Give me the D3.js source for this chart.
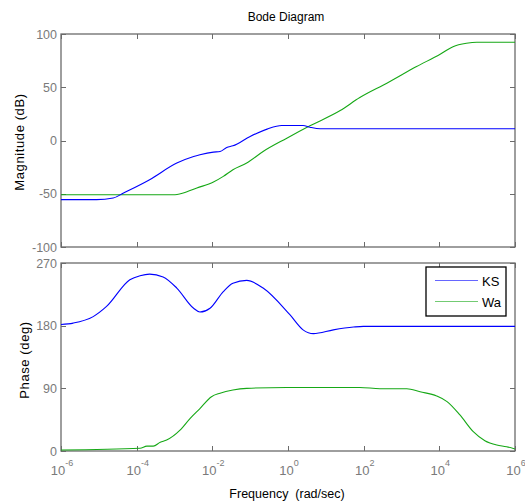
<!DOCTYPE html>
<html><head><meta charset="utf-8">
<script src="https://cdn.jsdelivr.net/npm/d3@7"></script>
<style>body{margin:0;background:#fff}svg{display:block}</style>
</head><body>
<script>
// ---- data ----
const seriesNames = ["KS", "Wa"];
const xTickExps = [-6, -4, -2, 0, 2, 4, 6];
const magTicks = [-100, -50, 0, 50, 100];
const phaseTicks = [0, 90, 180, 270];

const ksMagW = [1e-6, 8.7e-6, 2.4e-5, 4.5e-5, 2.2e-4, 1.15e-3, 3.2e-3, 4.7e-3, 1.07e-2, 1.6e-2, 2.4e-2, 3.5e-2, 0.1, 0.28, 0.68, 2.5, 3.8, 7.1, 1e6];
const ksMag  = [-55.5, -55.5, -54, -49.3, -36.8, -21.2, -15, -13.4, -10.9, -10.3, -6.6, -5, 3.8, 10.7, 14.1, 14.1, 12.5, 11, 11];

const waMagW = [1e-6, 9.3e-4, 1.7e-3, 3.9e-3, 1.07e-2, 1.95e-2, 3.5e-2, 8.1e-2, 0.22, 0.93, 3.8, 24, 79, 410, 2500, 1.05e4, 2.3e4, 5.2e4, 9.8e4, 1e6];
const waMag  = [-51, -51, -49.3, -44.6, -39, -33.7, -27.5, -21.2, -10.3, 2.2, 13.8, 28.1, 40.3, 53.8, 69.4, 81, 88.1, 91.3, 92.3, 92.3];

const ksPhW = [1e-6, 2.1e-6, 7.1e-6, 1.6e-5, 6.6e-5, 1.23e-4, 2.2e-4, 5e-4, 1.15e-3, 3.2e-3, 4.7e-3, 8.7e-3, 1.95e-2, 3.5e-2, 8.1e-2, 0.22, 1.12, 2.5, 4.7, 15.8, 54, 98, 1e6];
const ksPh  = [181.7, 183.7, 193, 207.6, 246, 251.8, 254, 250, 234, 205, 199.6, 205, 229, 241, 245, 234, 195.7, 174, 168.5, 174, 178, 179, 179];

const waPhW = [1e-6, 1.23e-4, 1.86e-4, 2.75e-4, 4.2e-4, 6.2e-4, 1.4e-3, 2.6e-3, 4.7e-3, 9.5e-3, 1.6e-2, 3.5e-2, 8.1e-2, 0.93, 79, 270, 1380, 3100, 8500, 1.6e4, 3.5e4, 7.9e4, 1.6e5, 3.3e5, 6e5, 1e6];
const waPh  = [1.4, 3.9, 7, 7, 12.5, 15.8, 30, 47, 61, 78, 83, 87.6, 90, 91.3, 91.3, 89.5, 89.5, 85, 79, 71, 51.8, 27.8, 14.8, 8.6, 6.2, 2.9];

const seriesColors = ["#0000ff", "#16a816"];

// ---- layout ----
const W = 525, H = 504;
const left = 61, right = 515;
const magTop = 34, magBot = 247;
const phTop = 263, phBot = 451;
const axisColor = "#6b6b6b", tickTextColor = "#7a7a7a";
const font = "'Liberation Sans', Arial, sans-serif";

const svg = d3.select("body").append("svg").attr("width", W).attr("height", H);

const x = d3.scaleLog().domain([1e-6, 1e6]).range([left, right]);
const yMag = d3.scaleLinear().domain([-100, 100]).range([magBot, magTop]);
const yPh = d3.scaleLinear().domain([0, 270]).range([phBot, phTop]);

function panel(y, yTicks, top, bot, showXLabels) {
  const g = svg.append("g");
  g.append("rect").attr("x", left).attr("y", top).attr("width", right - left).attr("height", bot - top)
    .attr("fill", "#fff").attr("stroke", axisColor).attr("stroke-width", 1.3);
  const tl = 5;
  xTickExps.forEach(e => {
    const xv = Math.round(x(Math.pow(10, e))) + 0.5;
    g.append("line").attr("x1", xv).attr("x2", xv).attr("y1", bot).attr("y2", bot - tl).attr("stroke", axisColor);
    g.append("line").attr("x1", xv).attr("x2", xv).attr("y1", top).attr("y2", top + tl).attr("stroke", axisColor);
  });
  yTicks.forEach(v => {
    const yv = Math.round(y(v)) + 0.5;
    g.append("line").attr("x1", left).attr("x2", left + tl).attr("y1", yv).attr("y2", yv).attr("stroke", axisColor);
    g.append("line").attr("x1", right).attr("x2", right - tl).attr("y1", yv).attr("y2", yv).attr("stroke", axisColor);
    g.append("text").attr("x", left - 4).attr("y", y(v) + 4.5).attr("text-anchor", "end")
      .attr("font-family", font).attr("font-size", 12.5).attr("fill", tickTextColor).text(v);
  });
  if (showXLabels) {
    xTickExps.forEach(e => {
      const t = g.append("text").attr("x", x(Math.pow(10, e)) + 1).attr("y", 475).attr("text-anchor", "middle")
        .attr("font-family", font).attr("fill", tickTextColor);
      t.append("tspan").attr("font-size", 13).text("10");
      t.append("tspan").attr("font-size", 9).attr("dy", -9).text(e);
    });
  }
  return g;
}

panel(yMag, magTicks, magTop, magBot, false);
panel(yPh, phaseTicks, phTop, phBot, true);

const defs = svg.append("defs");
defs.append("clipPath").attr("id", "cm").append("rect").attr("x", left).attr("y", magTop).attr("width", right - left).attr("height", magBot - magTop);
defs.append("clipPath").attr("id", "cp").append("rect").attr("x", left).attr("y", phTop).attr("width", right - left).attr("height", phBot - phTop);

function draw(ws, vs, y, color, clip) {
  const data = ws.map((w, i) => [w, vs[i]]);
  const line = d3.line().x(d => x(d[0])).y(d => y(d[1])).curve(d3.curveMonotoneX);
  svg.append("path").attr("d", line(data)).attr("fill", "none").attr("stroke", color)
    .attr("stroke-width", 1.1).attr("clip-path", `url(#${clip})`);
}
draw(waMagW, waMag, yMag, seriesColors[1], "cm");
draw(ksMagW, ksMag, yMag, seriesColors[0], "cm");
draw(ksPhW, ksPh, yPh, seriesColors[0], "cp");
draw(waPhW, waPh, yPh, seriesColors[1], "cp");

// legend
const lg = svg.append("g");
lg.append("rect").attr("x", 426).attr("y", 267).attr("width", 80).attr("height", 49)
  .attr("fill", "#fff").attr("stroke", "#000").attr("stroke-width", 1.3);
seriesNames.forEach((n, i) => {
  const yy = 280.5 + i * 21;
  lg.append("line").attr("x1", 435).attr("x2", 478).attr("y1", yy).attr("y2", yy)
    .attr("stroke", seriesColors[i]).attr("stroke-opacity", 0.6).attr("stroke-width", 1.2);
  lg.append("text").attr("x", 482).attr("y", yy + 5).attr("font-family", font).attr("font-size", 13)
    .attr("fill", "#000").text(n);
});

// titles
svg.append("text").attr("x", 286).attr("y", 21).attr("text-anchor", "middle")
  .attr("font-family", font).attr("font-size", 12).attr("fill", "#000").text("Bode Diagram");
svg.append("text").attr("x", 287).attr("y", 498).attr("text-anchor", "middle")
  .attr("font-family", font).attr("font-size", 12.5).attr("fill", "#000").attr("xml:space", "preserve")
  .style("white-space", "pre").text("Frequency  (rad/sec)");
svg.append("text").attr("transform", "translate(24,142) rotate(-90)").attr("text-anchor", "middle")
  .attr("font-family", font).attr("font-size", 13).attr("letter-spacing", 0.6).attr("fill", "#000").text("Magnitude (dB)");
svg.append("text").attr("transform", "translate(29,360) rotate(-90)").attr("text-anchor", "middle")
  .attr("font-family", font).attr("font-size", 13).attr("letter-spacing", 0.6).attr("fill", "#000").text("Phase (deg)");
</script>
</body></html>
